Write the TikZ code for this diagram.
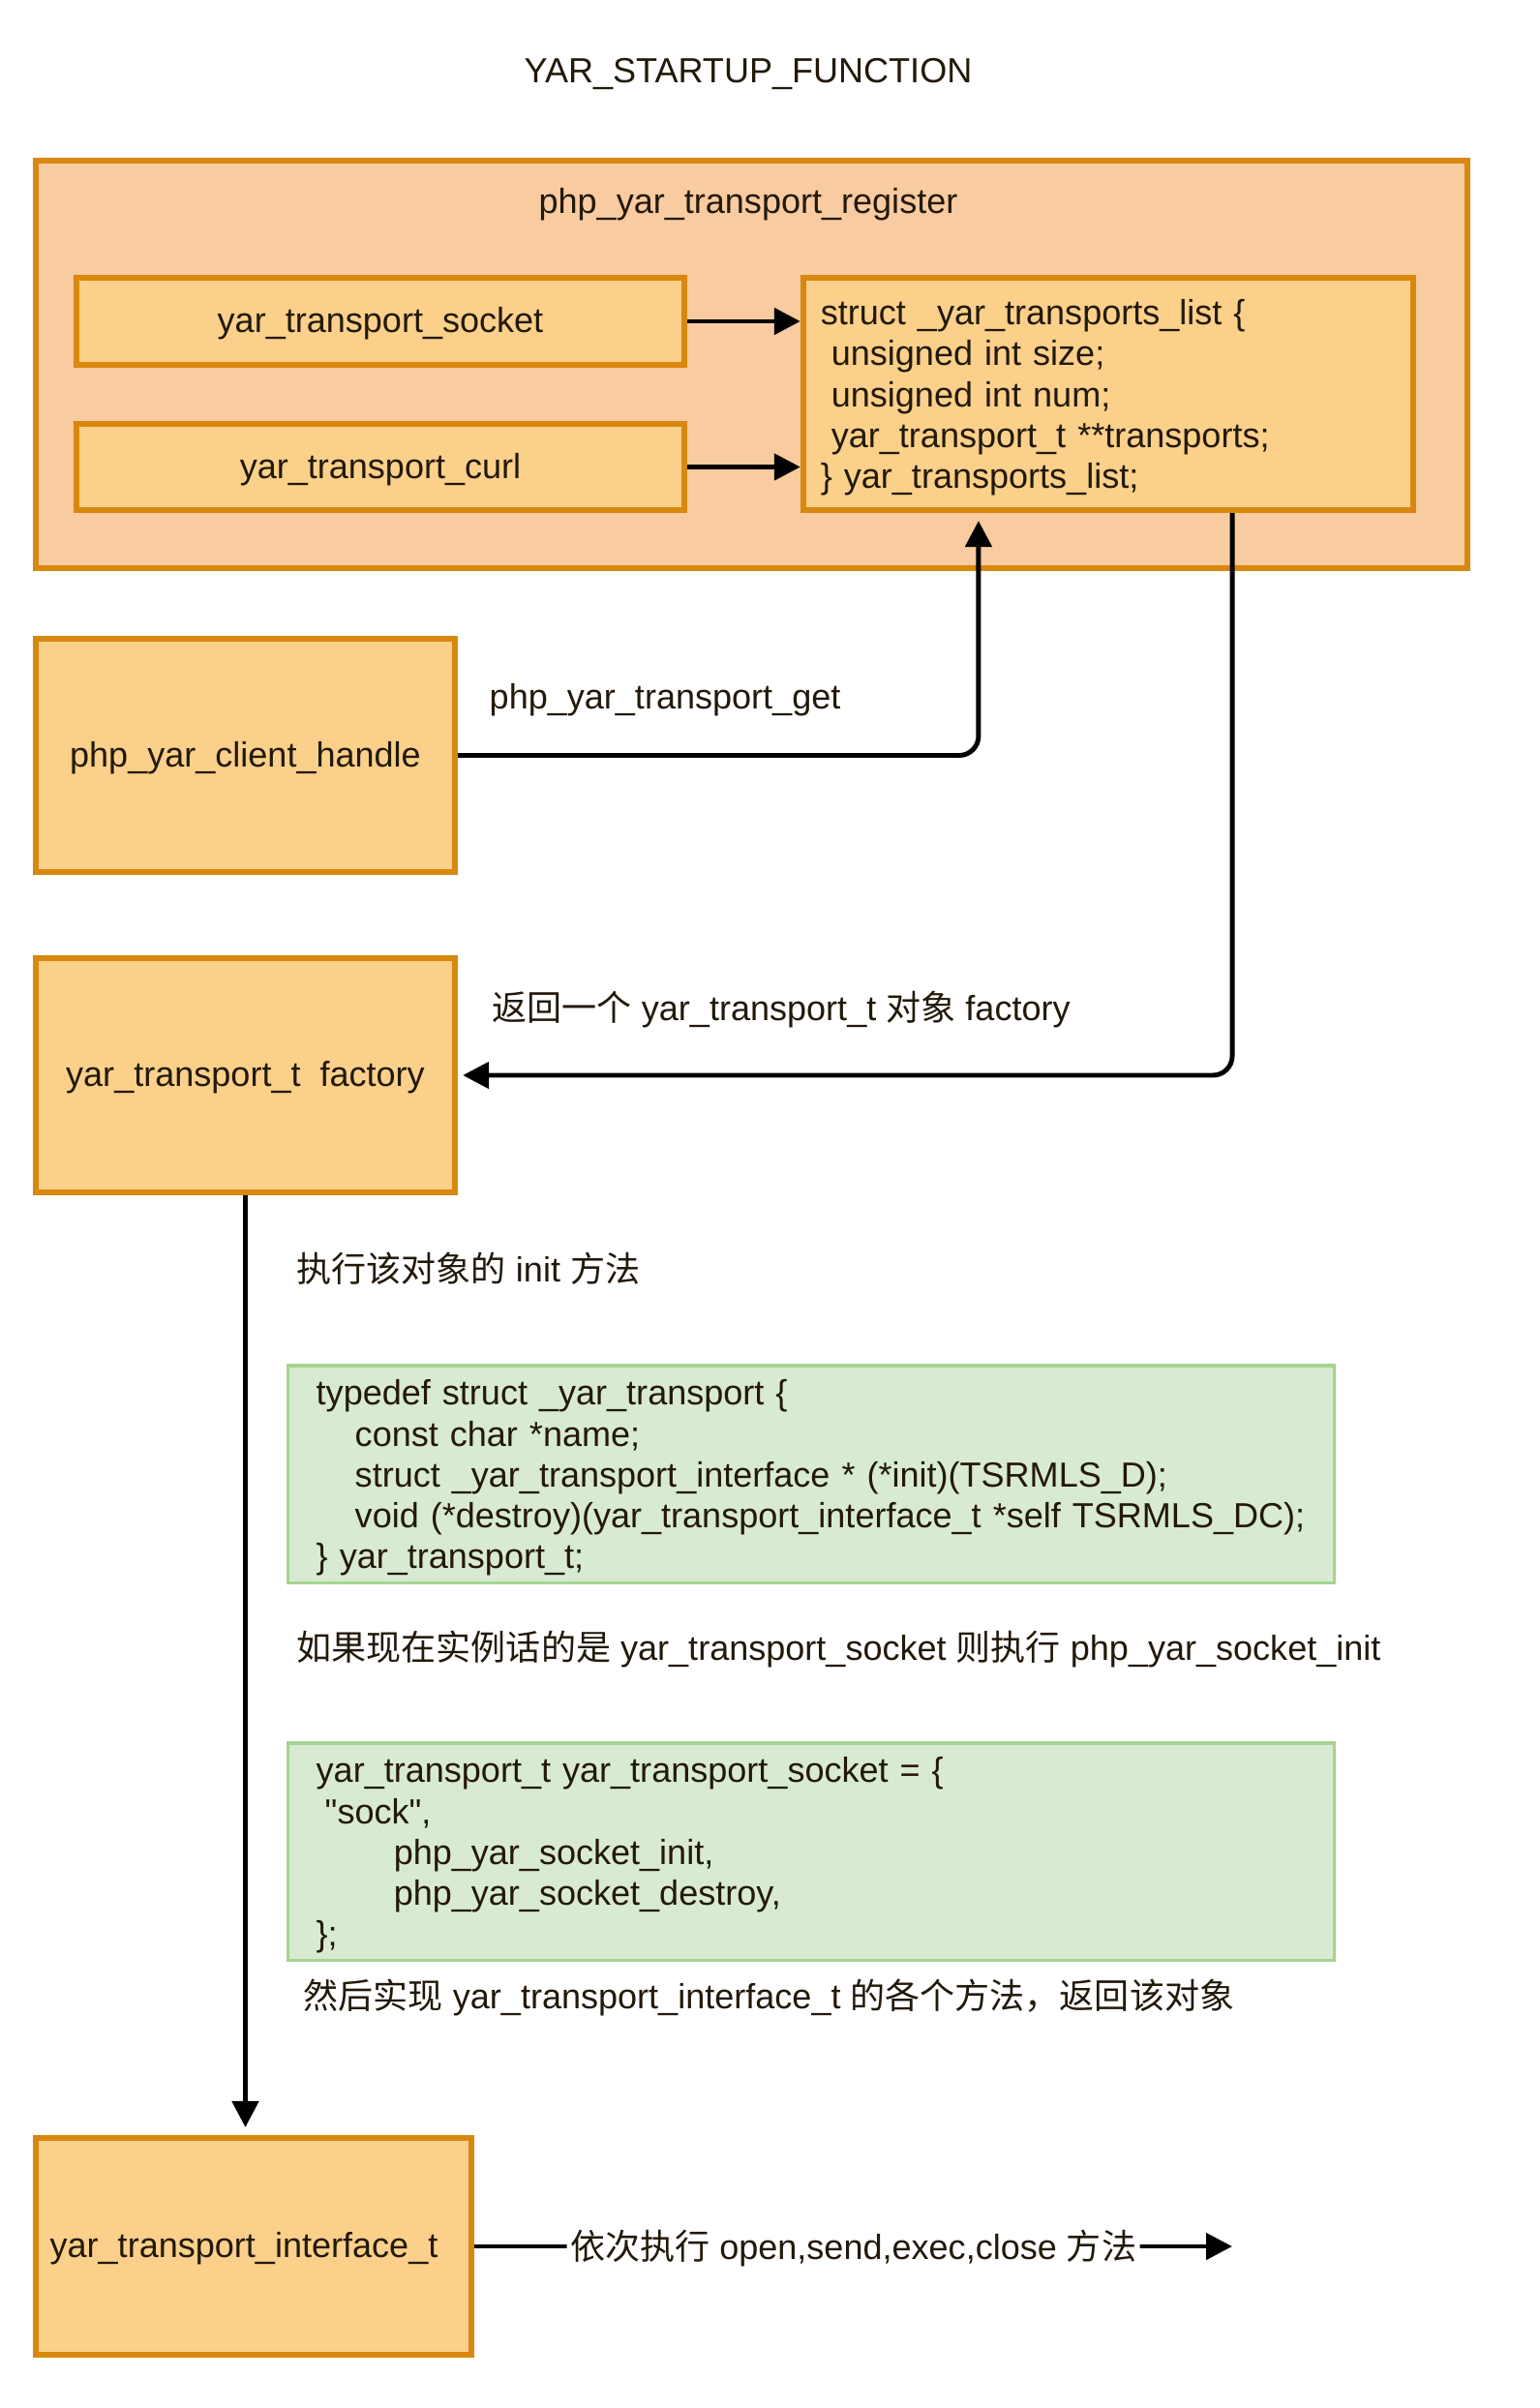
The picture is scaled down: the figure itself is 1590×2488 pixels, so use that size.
\documentclass[tikz,border=0pt]{standalone}
\usepackage{fontspec}
\setmainfont{Liberation Sans}
\newfontfamily\cjk{Noto Sans CJK SC}
\usetikzlibrary{arrows.meta, positioning}
\newcommand{\zh}[1]{{\cjk #1}}
\definecolor{regfill}{HTML}{F8CBA0}
\definecolor{boxfill}{HTML}{FBD08A}
\definecolor{boxline}{HTML}{D9880F}
\definecolor{codefill}{HTML}{D9EAD3}
\definecolor{codeline}{HTML}{A6D38F}
\definecolor{ink}{HTML}{22190A}

\begin{document}
\begin{tikzpicture}[x=0.01cm, y=-0.01cm, >={Triangle[length=0.27cm,width=0.27cm]},
    every node/.style={text=ink, font=\fontsize{10.25}{12}\selectfont},
    lbl/.style={anchor=west, inner xsep=0pt},
    regbox/.style={draw=boxline, fill=regfill, line width=1.7pt, minimum width=14.79cm, minimum height=4.21cm},
    fnbox/.style={draw=boxline, fill=boxfill, line width=1.7pt, inner sep=0pt, text height=9.2pt, text depth=2.6pt},
    fivelines/.style={text height=9.2pt, text depth=49.7pt, inner ysep=0pt, align=left},
    codebox/.style={draw=codeline, fill=codefill, line width=0.9pt, minimum width=10.8cm, minimum height=2.24cm, text width=10.22cm, inner xsep=0.29cm, fivelines},
    arr/.style={->, line width=1.4pt, rounded corners=0.2cm}]
    \useasboundingbox (0,0) rectangle (1590,2488);

    \node (title) at (773,76) {YAR\_STARTUP\_FUNCTION};
    \node[regbox] (reg) at (776.5,376.5) {};
    \node (regtitle) at (773,211) {php\_yar\_transport\_register};
    \node[fnbox, minimum width=6.28cm, minimum height=0.9cm] (sock) at (393,332) {yar\_transport\_socket};
    \node[fnbox, minimum width=6.28cm, minimum height=0.89cm] (curl) at (393,482.5) {yar\_transport\_curl};
    \node[fnbox, minimum width=6.3cm, minimum height=2.4cm, text width=5.94cm, inner xsep=0.18cm, fivelines] (list) at (1145,407) {struct \_yar\_transports\_list \{\\
        \hspace*{0.11cm}unsigned int size;\\
        \hspace*{0.11cm}unsigned int num;\\
        \hspace*{0.11cm}yar\_transport\_t **transports;\\
        \} yar\_transports\_list;};

    \node[fnbox, minimum width=4.33cm, minimum height=2.41cm] (client) at (253.5,780.5) {php\_yar\_client\_handle};
    \node[lbl] (getlbl) at (505,723) {php\_yar\_transport\_get};
    \node[fnbox, minimum width=4.33cm, minimum height=2.42cm] (factory) at (253.5,1111) {yar\_transport\_t\ \ factory};
    \node[lbl] (retlbl) at (508,1043) {\zh{返回一个} yar\_transport\_t \zh{对象} factory};

    \node[lbl] (initlbl) at (306,1311) {\zh{执行该对象的} init \zh{方法}};
    \node[codebox] (tdef) at (838,1523) {typedef struct \_yar\_transport \{\\
        \hspace*{0.4cm}const char *name;\\
        \hspace*{0.4cm}struct \_yar\_transport\_interface * (*init)(TSRMLS\_D);\\
        \hspace*{0.4cm}void (*destroy)(yar\_transport\_interface\_t *self TSRMLS\_DC);\\
        \} yar\_transport\_t;};
    \node[lbl] (ifsock) at (306,1704) {\zh{如果现在实例话的是} yar\_transport\_socket \zh{则执行} php\_yar\_socket\_init};
    \node[codebox] (sockdef) at (838,1913) {yar\_transport\_t yar\_transport\_socket = \{\\
        \hspace*{0.09cm}\textquotedbl sock\textquotedbl,\\
        \hspace*{0.8cm}php\_yar\_socket\_init,\\
        \hspace*{0.8cm}php\_yar\_socket\_destroy,\\
        \};};
    \node[lbl] (implbl) at (313,2064) {\zh{然后实现} yar\_transport\_interface\_t \zh{的各个方法，返回该对象}};
    \node[fnbox, minimum width=4.5cm, minimum height=2.24cm] (iface) at (262,2321) {yar\_transport\_interface\_t\hspace*{0.2cm}};
    \coordinate (done) at (1273,2321);

    \draw[arr] (sock.east) -- (sock.east -| list.west);
    \draw[arr] (curl.east) -- (curl.east -| list.west);
    \draw[arr, shorten >=0.08cm] (client.east) -| ([xshift=-1.34cm]list.south);
    \draw[arr, shorten >=0.05cm] ([xshift=1.28cm]list.south) |- (factory.east);
    \draw[arr, shorten >=0.08cm] (factory.south) -- (factory.south |- iface.north);
    \draw[arr] (iface.east) -- node[fill=white, inner xsep=1pt, yshift=-0.02cm] (steps) {\zh{依次执行} open,send,exec,close \zh{方法}} (done);
\end{tikzpicture}
\end{document}
